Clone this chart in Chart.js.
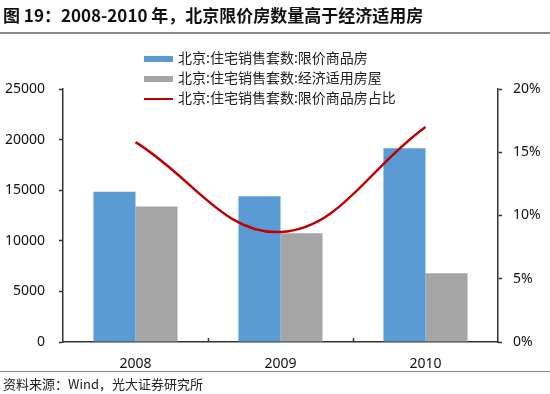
<!DOCTYPE html>
<html>
<head>
<meta charset="utf-8">
<script src="https://cdn.jsdelivr.net/npm/chart.js@4"></script>
<style>
    body { margin: 0; width: 550px; height: 394px; overflow: hidden; background: #fff; font-family: "Noto Sans CJK SC", "Noto Sans", sans-serif; }
    #wrap { position: relative; width: 550px; height: 394px; }
    #chart { position: absolute; left: 0; top: 0; }
    .title { position: absolute; left: 3px; top: 2px; font-size: 17px; font-weight: bold; color: #111; white-space: nowrap; }
    .topline { position: absolute; left: 0; top: 32px; width: 550px; height: 2px; background: #8c8c8c; }
    .bottomline { position: absolute; left: 0; top: 371px; width: 550px; height: 1px; background: #8c8c8c; }
    .source { position: absolute; left: 3px; top: 374px; font-size: 13px; color: #222; white-space: nowrap; }
    .legend { position: absolute; left: 144px; top: 47px; font-size: 14px; color: #222; }
    .legend div { height: 20px; line-height: 20px; white-space: nowrap; }
    .legend span { display: inline-block; width: 29px; vertical-align: middle; margin-right: 5px; }
</style>
</head>
<body>
<div id="wrap">
    <canvas id="chart" width="550" height="394"></canvas>
    <div class="title">图 19：2008-2010 年，北京限价房数量高于经济适用房</div>
    <div class="topline"></div>
    <div class="legend">
        <div><span style="height:6px;background:#5B9BD5"></span>北京:住宅销售套数:限价商品房</div>
        <div><span style="height:6px;background:#A5A5A5"></span>北京:住宅销售套数:经济适用房屋</div>
        <div><span style="height:2px;background:#C00000"></span>北京:住宅销售套数:限价商品房占比</div>
    </div>
    <div class="bottomline"></div>
    <div class="source">资料来源：Wind，光大证券研究所</div>
</div>
<script>
const years = ["2008", "2009", "2010"];
const limitedPriceHomes = [14850, 14400, 19150];
const affordableHomes = [13400, 10750, 6800];
const limitedShare = [15.8, 8.7, 17.0];

const axisColor = "#333";
const tickFont = { family: "Noto Sans", size: 14 };

// small tick marks inside the plot at category boundaries
const innerTicks = {
    id: "innerTicks",
    afterDraw(chart) {
        const x = chart.scales.x;
        const ctx = chart.ctx;
        const step = (x.right - x.left) / years.length;
        ctx.save();
        ctx.strokeStyle = axisColor;
        ctx.lineWidth = 1.5;
        for (let i = 1; i < years.length; i++) {
            const px = Math.round(x.left + step * i) + 0.5;
            ctx.beginPath();
            ctx.moveTo(px, x.top);
            ctx.lineTo(px, x.top - 4);
            ctx.stroke();
        }
        ctx.restore();
    }
};

new Chart(document.getElementById("chart"), {
    data: {
        labels: years,
        datasets: [
            {
                type: "line",
                label: "北京:住宅销售套数:限价商品房占比",
                data: limitedShare,
                yAxisID: "y1",
                borderColor: "#C00000",
                borderWidth: 2.5,
                pointRadius: 0,
                tension: 0.4,
                fill: false
            },
            {
                type: "bar",
                label: "北京:住宅销售套数:限价商品房",
                data: limitedPriceHomes,
                yAxisID: "y",
                backgroundColor: "#5B9BD5",
                categoryPercentage: 0.58,
                barPercentage: 1
            },
            {
                type: "bar",
                label: "北京:住宅销售套数:经济适用房屋",
                data: affordableHomes,
                yAxisID: "y",
                backgroundColor: "#A5A5A5",
                categoryPercentage: 0.58,
                barPercentage: 1
            }
        ]
    },
    options: {
        responsive: false,
        animation: false,
        layout: { padding: { top: 89, left: 0, right: 0, bottom: 0 } },
        plugins: {
            legend: { display: false },
            tooltip: { enabled: false }
        },
        scales: {
            x: {
                offset: true,
                grid: { display: false },
                border: { display: true, color: axisColor, width: 1.5 },
                ticks: { color: "#111", font: tickFont, padding: 6 },
                afterFit(scale) { scale.height = 52; }
            },
            y: {
                position: "left",
                min: 0,
                max: 25000,
                ticks: { stepSize: 5000, color: "#111", font: tickFont, padding: 14, callback: v => String(v) },
                grid: { drawOnChartArea: false, drawTicks: true, tickLength: 4, tickColor: axisColor, tickWidth: 1.5 },
                border: { display: true, color: axisColor, width: 1.5 },
                afterFit(scale) { scale.width = 63; }
            },
            y1: {
                position: "right",
                min: 0,
                max: 20,
                ticks: { stepSize: 5, color: "#111", font: tickFont, padding: 11, callback: v => v + "%" },
                grid: { drawOnChartArea: false, drawTicks: true, tickLength: 4, tickColor: axisColor, tickWidth: 1.5 },
                border: { display: true, color: axisColor, width: 1.5 },
                afterFit(scale) { scale.width = 52; }
            }
        }
    },
    plugins: [innerTicks]
});
</script>
</body>
</html>
